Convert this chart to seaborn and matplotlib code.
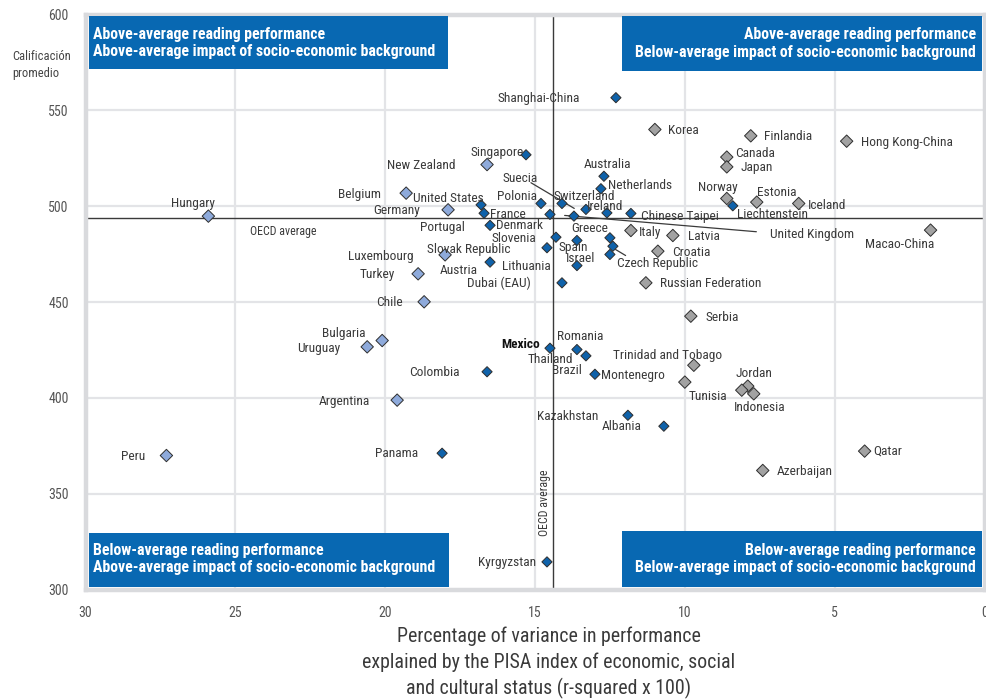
import numpy as np
import pandas as pd
import matplotlib
matplotlib.use("Agg")
import matplotlib.pyplot as plt
import seaborn as sns
from matplotlib import font_manager
from matplotlib.patches import Rectangle
from matplotlib.lines import Line2D
from matplotlib.transforms import IdentityTransform

# ---------------------------------------------------------------- data
countries = [
    "Shanghai-China", "Korea", "Finlandia", "Hong Kong-China", "Singapore",
    "Canada", "New Zealand", "Japan", "Australia", "Netherlands",
    "Belgium", "Norway", "Estonia", "Switzerland", "Polonia",
    "Iceland", "United States", "Liechtenstein", "Suecia", "Germany",
    "Ireland", "France", "Chinese Taipei", "Denmark", "United Kingdom",
    "Hungary", "Portugal", "Macao-China", "Italy", "Latvia",
    "Slovenia", "Greece", "Spain", "Czech Republic", "Slovak Republic",
    "Croatia", "Israel", "Luxembourg", "Austria", "Lithuania",
    "Turkey", "Dubai (EAU)", "Russian Federation", "Chile", "Serbia",
    "Bulgaria", "Uruguay", "Mexico", "Romania", "Thailand",
    "Trinidad and Tobago", "Colombia", "Brazil", "Montenegro", "Jordan",
    "Tunisia", "Indonesia", "Argentina", "Kazakhstan", "Albania",
    "Qatar", "Panama", "Peru", "Azerbaijan", "Kyrgyzstan",
]

r_squared = [
    12.3, 11.0, 7.8, 4.6, 15.3,
    8.6, 16.6, 8.6, 12.7, 12.8,
    19.3, 8.6, 7.6, 14.1, 14.8,
    6.2, 16.8, 8.4, 13.3, 17.9,
    12.6, 16.7, 11.8, 14.5, 13.7,
    25.9, 16.5, 1.8, 11.8, 10.4,
    14.3, 12.5, 13.6, 12.4, 14.6,
    10.9, 12.5, 18.0, 16.5, 13.6,
    18.9, 14.1, 11.3, 18.7, 9.8,
    20.1, 20.6, 14.5, 13.6, 13.3,
    9.7, 16.6, 13.0, 10.0, 7.9,
    8.1, 7.7, 19.6, 11.9, 10.7,
    4.0, 18.1, 27.3, 7.4, 14.6,
]

reading_score = [
    556.6, 540.0, 536.7, 533.9, 526.8,
    525.6, 521.7, 520.5, 515.6, 509.1,
    506.8, 504.0, 502.1, 501.4, 501.4,
    501.4, 500.7, 500.2, 498.3, 498.1,
    496.5, 496.3, 496.2, 495.7, 494.8,
    494.8, 490.0, 487.5, 487.3, 484.7,
    483.8, 483.5, 482.1, 479.1, 478.3,
    476.5, 474.8, 474.6, 470.8, 469.0,
    464.7, 460.0, 460.0, 450.1, 442.6,
    429.9, 426.6, 425.9, 425.2, 421.9,
    417.0, 413.6, 412.3, 408.2, 406.1,
    404.0, 402.1, 398.8, 390.9, 385.2,
    372.2, 371.1, 369.9, 362.1, 314.4,
]

# strength of the socio-economic gradient compared with the OECD average
gradient = [
    "similar", "below", "below", "below", "similar",
    "below", "above", "below", "similar", "similar",
    "above", "below", "below", "similar", "similar",
    "below", "similar", "similar", "similar", "above",
    "similar", "similar", "similar", "similar", "similar",
    "above", "similar", "below", "below", "below",
    "similar", "similar", "similar", "similar", "similar",
    "below", "similar", "above", "similar", "similar",
    "above", "similar", "below", "above", "below",
    "above", "above", "similar", "similar", "similar",
    "below", "similar", "similar", "below", "below",
    "below", "below", "above", "similar", "similar",
    "below", "similar", "above", "below", "similar",
]

oecd_r_squared = 14.4
oecd_score = 494

x_ticks = [30, 25, 20, 15, 10, 5, 0]
y_ticks = [300, 350, 400, 450, 500, 550, 600]

quadrant_titles = {
    "top_left": ["Above-average reading performance",
                 "Above-average impact of socio-economic background"],
    "top_right": ["Above-average reading performance",
                  "Below-average impact of socio-economic background"],
    "bottom_left": ["Below-average reading performance",
                    "Above-average impact of socio-economic background"],
    "bottom_right": ["Below-average reading performance",
                     "Below-average impact of socio-economic background"],
}

x_title = ("Percentage of variance in performance\n"
           "explained by the PISA index of economic, social\n"
           "and cultural status (r-squared x 100)")
y_title = ["Calificación", "promedio"]

# ---------------------------------------------------------------- layout
# label placement: offset in pixels from the marker (right, down), alignment
label_layout = {
    "Shanghai-China": (-36, 0.7, "right"), "Korea": (13, 1, "left"),
    "Finlandia": (13, 0.4, "left"), "Hong Kong-China": (14, 1.6, "left"),
    "Singapore": (-2.7, -2, "right"), "Canada": (8.3, -3.7, "left"),
    "New Zealand": (-32, 0.7, "right"), "Japan": (14, 0.7, "left"),
    "Australia": (3.7, -12, "center"), "Netherlands": (7, -3.6, "left"),
    "Belgium": (-25.6, 1.5, "right"), "Norway": (-9, -10.7, "center"),
    "Estonia": (0.4, -10, "left"), "Switzerland": (-8.3, -7.3, "left"),
    "Polonia": (-4, -6.7, "right"), "Iceland": (9.3, 1.7, "left"),
    "United States": (2.3, -6, "right"), "Liechtenstein": (4.4, 8.7, "left"),
    "Suecia": (-48.3, -31, "right"), "Germany": (-27.6, 0.5, "right"),
    "Ireland": (-20, -6, "left"), "France": (5.6, 1, "left"),
    "Chinese Taipei": (10, 2.7, "left"), "Denmark": (-54.3, 11, "left"),
    "United Kingdom": (195.7, 18.6, "left"), "Hungary": (-15, -12.7, "center"),
    "Portugal": (-25, 1.7, "right"), "Macao-China": (3.3, 14.3, "right"),
    "Italy": (8.3, 2.3, "left"), "Latvia": (14.7, 0.7, "left"),
    "Slovenia": (-20, 1.3, "right"), "Greece": (-1.7, -9.3, "right"),
    "Spain": (-18.7, 7.3, "left"), "Czech Republic": (4, 17.3, "left"),
    "Slovak Republic": (-36.7, 1.7, "right"), "Croatia": (14.3, 1.3, "left"),
    "Israel": (-15, 4.3, "right"), "Luxembourg": (-31.7, 1.7, "right"),
    "Austria": (-12, 8.3, "right"), "Lithuania": (-26, 0.7, "right"),
    "Turkey": (-22.7, 0.7, "right"), "Dubai (EAU)": (-31, 0.7, "right"),
    "Russian Federation": (14, 1, "left"), "Chile": (-21.6, 1, "right"),
    "Serbia": (14.3, 1.6, "left"), "Bulgaria": (-16.4, -6.7, "right"),
    "Uruguay": (-26.7, 2, "right"), "Mexico": (-9.7, -4, "right"),
    "Romania": (-19.6, -12.7, "left"), "Thailand": (-13.3, 3.7, "right"),
    "Trinidad and Tobago": (28.4, -10, "right"), "Colombia": (-27.3, 1, "right"),
    "Brazil": (-12.7, -4, "right"), "Montenegro": (-84.3, -6.4, "left"),
    "Jordan": (6.5, -12.7, "center"), "Tunisia": (-14.3, 6, "right"),
    "Indonesia": (5.5, 13.4, "center"), "Argentina": (-27.3, 1.6, "right"),
    "Kazakhstan": (-29.4, 1.6, "right"), "Albania": (-22.6, 0.6, "right"),
    "Qatar": (8.6, 0, "left"), "Panama": (-24.3, 0.6, "right"),
    "Peru": (-21, 0.7, "right"), "Azerbaijan": (14, 0.7, "left"),
    "Kyrgyzstan": (-11, 1, "right"),
}

# leader lines: pixel offsets (right, down) of both ends from the marker
leader_lines = {
    "Suecia": [(-55, -26.7), (-11.7, -1)],
    "United Kingdom": [(-9.3, -0.7), (182.4, 15.6)],
    "Czech Republic": [(2.7, 3.3), (12.7, 9.3)],
}

# ---------------------------------------------------------------- style
sns.set_style("white")
available = {f.name for f in font_manager.fontManager.ttflist}
base_font = "DejaVu Sans"
for cand in ["Liberation Sans Narrow", "Roboto Condensed", "Arial Narrow",
             "Liberation Sans"]:
    if cand in available:
        base_font = cand
        break
plt.rcParams["font.family"] = [base_font, "DejaVu Sans"]

dark_blue = "#0F62AA"
light_blue = "#8EAADB"
grey = "#A2A2A2"
box_blue = "#0868B2"
text_col = "#3A3A3A"

palette = {"similar": dark_blue, "above": light_blue, "below": grey}
sizes = {"similar": 27, "above": 40, "below": 40}

df = pd.DataFrame({
    "country": countries,
    "r2": r_squared,
    "score": reading_score,
    "gradient": gradient,
})

W, H = 986, 700
fig = plt.figure(figsize=(W / 100, H / 100), dpi=100)
left, right, top, bottom = 85.5, 984.5, 14.5, 589.5
ax = fig.add_axes([left / W, (H - bottom) / H, (right - left) / W,
                   (bottom - top) / H])

ax.set_xlim(30, 0)
ax.set_ylim(300, 600)
ax.set_xticks(x_ticks)
ax.set_yticks(y_ticks)
ax.set_xticklabels([str(t) for t in x_ticks])
ax.set_yticklabels([str(t) for t in y_ticks])
ax.grid(True, color="#E3E4E7", lw=1.6)
ax.set_axisbelow(True)
for sp in ax.spines.values():
    sp.set_color("#D9DADD")
    sp.set_linewidth(3.2)
ax.tick_params(length=0, pad=12, labelsize=10, labelcolor="#555555")

ax.axhline(oecd_score, color="#3A3A3A", lw=1.0, zorder=2)
ax.axvline(oecd_r_squared, color="#3A3A3A", lw=1.0, zorder=2)

sns.scatterplot(data=df, x="r2", y="score", hue="gradient", size="gradient",
                palette=palette, sizes=sizes, marker="D",
                edgecolor="#2E2E2E", linewidth=0.7, legend=False,
                ax=ax, zorder=4)
ax.set_xlim(30, 0)
ax.set_ylim(300, 600)
ax.set_xlabel("")
ax.set_ylabel("")

# country labels
for name, xv, yv in zip(countries, r_squared, reading_score):
    dx, dy, ha = label_layout[name]
    bold = name == "Mexico"
    ax.annotate(name, (xv, yv), xytext=(dx, -dy), textcoords="offset pixels",
                ha=ha, va="center", fontsize=9.6,
                color="#111111" if bold else text_col,
                fontweight="bold" if bold else "normal", zorder=5)

# leader lines
fig.canvas.draw()
for name, ends in leader_lines.items():
    i = countries.index(name)
    px, py = ax.transData.transform((r_squared[i], reading_score[i]))
    xs = [px + e[0] for e in ends]
    ys = [py - e[1] for e in ends]
    ax.add_line(Line2D(xs, ys, transform=IdentityTransform(),
                       color="#3A3A3A", lw=0.9, zorder=3))

# OECD average captions
ax.text(23.4, 486.6, "OECD average", ha="center", va="center",
        fontsize=8.6, color=text_col)
ax.text(14.67, 345.4, "OECD average", ha="center", va="center",
        fontsize=8.6, color=text_col, rotation=90)

# quadrant boxes (axes fraction)
def to_ax(xp, yp):
    return (xp - left) / (right - left), (bottom - yp) / (bottom - top)

boxes = {
    "top_left": ((89, 16), (448, 69), "left", 93, (34.3, 51.5)),
    "top_right": ((622, 16), (982, 71), "right", 976, (34.7, 52)),
    "bottom_left": ((89, 533), (449, 587), "left", 93, (550.5, 567.5)),
    "bottom_right": ((622, 531), (982, 587), "right", 976, (550.5, 567.5)),
}
for key, ((x0, y0), (x1, y1), ha, tx, tys) in boxes.items():
    ax0, ay1 = to_ax(x0, y0)
    ax1, ay0 = to_ax(x1, y1)
    ax.add_patch(Rectangle((ax0, ay0), ax1 - ax0, ay1 - ay0,
                           transform=ax.transAxes, facecolor=box_blue,
                           edgecolor="none", zorder=6, clip_on=False))
    for line, ty in zip(quadrant_titles[key], tys):
        fx, fy = to_ax(tx, ty)
        ax.text(fx, fy, line, transform=ax.transAxes, ha=ha, va="center",
                fontsize=11.4, fontweight="bold", color="white", zorder=7)

# axis titles
ax.set_xlabel(x_title, fontsize=14.3, color=text_col, linespacing=1.4)
ax.xaxis.set_label_coords((548.5 - left) / (right - left), -0.064)
fig.text(12 / W, 1 - 57 / H, y_title[0], ha="left", va="center",
         fontsize=9.0, color="#444444")
fig.text(12 / W, 1 - 73 / H, y_title[1], ha="left", va="center",
         fontsize=9.0, color="#444444")

fig.savefig("out.png", dpi=100)
